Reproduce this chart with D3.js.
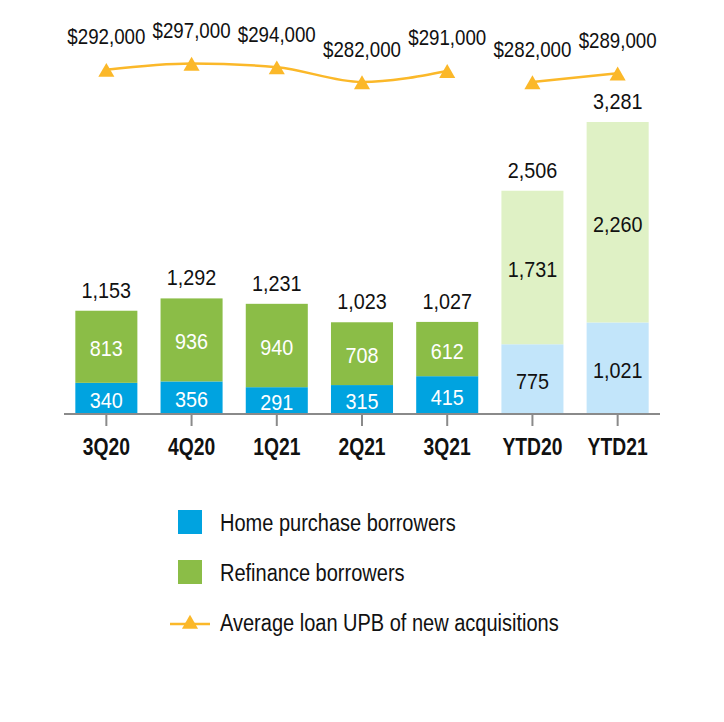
<!DOCTYPE html>
<html><head><meta charset="utf-8">
<script src="https://cdn.jsdelivr.net/npm/d3@7"></script>
<style>
html,body{margin:0;padding:0;background:#fff;}
svg{display:block;font-family:"Liberation Sans",Arial,Helvetica,sans-serif;}
</style></head><body>
<svg id="chart" width="724" height="722"></svg>
<script>
const categories = ["3Q20","4Q20","1Q21","2Q21","3Q21","YTD20","YTD21"];
const homePurchase = [340,356,291,315,415,775,1021];
const refinance = [813,936,940,708,612,1731,2260];
const totals = [1153,1292,1231,1023,1027,2506,3281];
const avgLoanUPB = [292000,297000,294000,282000,291000,282000,289000];
const ytdCategories = ["YTD20","YTD21"];
const legendLabels = ["Home purchase borrowers","Refinance borrowers","Average loan UPB of new acquisitions"];

const C = {blue:"#00a3e0", green:"#8bbd47", lblue:"#c2e5fa", lgreen:"#dff1c5", orange:"#fbb829"};

const svg = d3.select("#chart");
const x = d3.scaleBand().domain(categories).range([64,660]).paddingInner(0.272).paddingOuter(0.133);
const y = d3.scaleLinear().domain([0,3281]).range([413,122]);
const yL = d3.scaleLinear().domain([282000,297000]).range([82,63.5]);
const fmt = d3.format(",");
const isYTD = c => ytdCategories.includes(c);

const data = categories.map((c,i)=>({c,hp:homePurchase[i],rf:refinance[i],tot:totals[i],upb:avgLoanUPB[i]}));
const cx = d=>x(d.c)+x.bandwidth()/2;

function label(sel, fx, fy, sx){
  return sel.attr("transform",d=>`translate(${fx(d)},${fy(d)}) scale(${sx},1)`)
    .attr("text-anchor","middle").attr("font-size",22);
}

// bars
const g = svg.append("g");
g.selectAll("rect.hp").data(data).join("rect")
  .attr("x",d=>x(d.c)).attr("width",x.bandwidth())
  .attr("y",d=>y(d.hp)).attr("height",d=>y(0)-y(d.hp))
  .attr("fill",d=>isYTD(d.c)?C.lblue:C.blue);
g.selectAll("rect.rf").data(data).join("rect")
  .attr("x",d=>x(d.c)).attr("width",x.bandwidth())
  .attr("y",d=>y(d.hp+d.rf)).attr("height",d=>y(d.hp)-y(d.hp+d.rf))
  .attr("fill",d=>isYTD(d.c)?C.lgreen:C.green);

// segment labels
label(g.selectAll("text.hp").data(data).join("text"), cx, d=>(y(0)+y(d.hp))/2+10, 0.9)
  .attr("fill",d=>isYTD(d.c)?"#111":"#fff").text(d=>fmt(d.hp));
label(g.selectAll("text.rf").data(data).join("text"), cx, d=>(y(d.hp)+y(d.hp+d.rf))/2+9.5, 0.9)
  .attr("fill",d=>isYTD(d.c)?"#111":"#fff").text(d=>fmt(d.rf));
label(g.selectAll("text.tot").data(data).join("text"), cx, d=>y(d.tot)-13, 0.9)
  .attr("fill","#111").text(d=>fmt(d.tot));

// axis
const axis = svg.append("g").attr("transform","translate(0,414)")
  .call(d3.axisBottom(x).tickSize(12).tickPadding(0));
axis.select(".domain").attr("d","M64,0H660").attr("stroke","#8a8a8a").attr("stroke-width",2);
axis.selectAll(".tick line").attr("stroke","#8a8a8a").attr("stroke-width",2).attr("y1",1);
axis.selectAll(".tick text").attr("font-size",23).attr("font-weight","bold").attr("fill","#111")
  .attr("font-family",'"Liberation Sans",Arial,sans-serif')
  .attr("y",0).attr("dy",null).attr("transform","translate(0,41) scale(0.84,1)");

// line
const line = d3.line().x(cx).y(d=>yL(d.upb)).curve(d3.curveMonotoneX);
const q = data.filter(d=>!isYTD(d.c)), ytd = data.filter(d=>isYTD(d.c));
[q,ytd].forEach(seg=>{
  svg.append("path").datum(seg).attr("d",line).attr("fill","none")
    .attr("stroke",C.orange).attr("stroke-width",2.5);
});
const tri = d3.symbol().type(d3.symbolTriangle).size(112);
svg.selectAll("path.mk").data(data).join("path")
  .attr("transform",d=>`translate(${cx(d)},${yL(d.upb)+2.5})`).attr("d",tri).attr("fill",C.orange);
label(svg.selectAll("text.upb").data(data).join("text"), cx, d=>yL(d.upb)-25.5, 0.85)
  .attr("fill","#111").text(d=>"$"+fmt(d.upb));

// legend
const lg = svg.append("g");
lg.append("rect").attr("x",178).attr("y",510).attr("width",24).attr("height",24).attr("fill",C.blue);
lg.append("rect").attr("x",178).attr("y",560).attr("width",24).attr("height",24).attr("fill",C.green);
lg.append("line").attr("x1",170).attr("x2",210).attr("y1",624).attr("y2",624).attr("stroke",C.orange).attr("stroke-width",2.5);
lg.append("path").attr("transform","translate(190,624)").attr("d",tri).attr("fill",C.orange);
[531,581,631].forEach((yy,i)=>{
  lg.append("text").attr("transform",`translate(220,${yy}) scale(0.87,1)`).attr("font-size",23)
    .attr("fill","#111").text(legendLabels[i]);
});
</script></body></html>
